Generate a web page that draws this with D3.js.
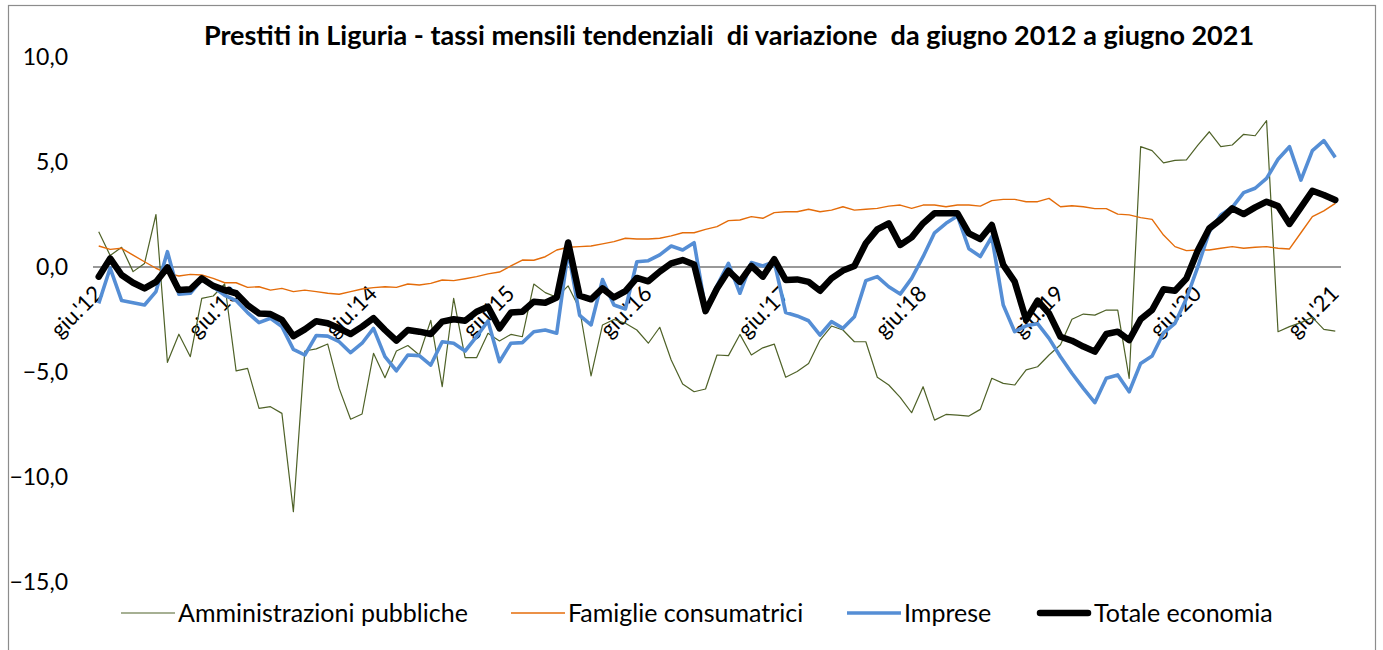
<!DOCTYPE html>
<meta charset="utf-8">
<head>
    <script src="https://d3js.org/d3.v7.min.js"></script>
</head>
<style>
    html, body { margin: 0; padding: 0; background: #fff; }
    svg { display: block; font-family: 'Lato', sans-serif; }
    .title { font-weight: 700; font-size: 27px; fill: #000; }
    .ytick { font-size: 23px; fill: #000; }
    .xtick { font-size: 22px; fill: #000; }
    .legend text { font-size: 25px; fill: #000; }
    .series { fill: none; stroke-linejoin: round; }
</style>
<body>
<svg width="1383" height="650"></svg>
<script>
    // mesi da giugno 2012 a giugno 2021
    var months = d3.timeMonth.range(new Date(2012, 5, 1), new Date(2021, 6, 1));
    var tickLabels = ["giu.'12", "giu.'13", "giu.'14", "giu.'15", "giu.'16", "giu.'17", "giu.'18", "giu.'19", "giu.'20", "giu.'21"];
    var yTicks = [-15, -10, -5, 0, 5, 10];

    var amministrazioni = [1.68, 0.55, 0.94, -0.22, 0.17, 2.5, -4.54, -3.2, -4.27, -1.49, -1.38, -0.81,
        -4.95, -4.83, -6.73, -6.65, -6.97, -11.65, -4.0, -3.9, -3.67, -5.78, -7.25, -7.0,
        -4.11, -5.27, -4.0, -3.74, -4.19, -2.54, -5.7, -1.49, -4.32, -4.32, -3.16, -3.52,
        -3.21, -3.32, -0.81, -1.22, -1.44, -0.9, -2.0, -5.19, -2.76, -2.5, -2.68, -3.0,
        -3.63, -2.87, -4.43, -5.57, -5.94, -5.81, -4.19, -4.22, -3.21, -4.19, -3.85, -3.67,
        -5.25, -4.98, -4.59, -3.48, -2.81, -3.0, -3.56, -3.56, -5.25, -5.62, -6.21, -6.94,
        -5.7, -7.29, -7.02, -7.05, -7.1, -6.78, -5.3, -5.54, -5.62, -4.9, -4.75, -4.19,
        -3.7, -2.49, -2.24, -2.29, -2.05, -2.05, -5.3, 5.73, 5.54, 4.96, 5.08, 5.1,
        5.8, 6.44, 5.73, 5.81, 6.32, 6.25, 6.97, -3.08, -2.84, -2.65, -2.4, -2.97, -3.05];

    var famiglie = [1.0, 0.84, 0.89, 0.57, 0.25, -0.06, -0.3, -0.43, -0.35, -0.38, -0.54, -0.75,
        -0.75, -0.97, -0.94, -1.1, -1.02, -1.17, -1.1, -1.17, -1.25, -1.3, -1.17, -1.05,
        -0.98, -0.94, -0.97, -0.81, -0.86, -0.78, -0.62, -0.65, -0.56, -0.46, -0.33, -0.24,
        0.05, 0.33, 0.32, 0.49, 0.81, 0.94, 0.97, 1.0, 1.1, 1.21, 1.37, 1.33,
        1.33, 1.37, 1.48, 1.63, 1.63, 1.79, 1.92, 2.21, 2.24, 2.4, 2.32, 2.59,
        2.63, 2.63, 2.75, 2.63, 2.71, 2.87, 2.71, 2.75, 2.79, 2.9, 2.95, 2.79,
        2.95, 2.95, 2.87, 2.95, 2.95, 2.9, 3.16, 3.22, 3.22, 3.11, 3.11, 3.27,
        2.87, 2.92, 2.87, 2.78, 2.78, 2.52, 2.48, 2.35, 2.27, 1.52, 0.97, 0.78,
        0.81, 0.81, 0.89, 0.97, 0.89, 0.94, 0.97, 0.89, 0.86, 1.63, 2.4, 2.67, 3.03];

    var imprese = [-1.73, -0.05, -1.6, -1.7, -1.81, -1.17, 0.73, -1.3, -1.25, -0.6, -0.95, -1.35,
        -1.6, -2.17, -2.65, -2.44, -2.84, -3.92, -4.19, -3.26, -3.29, -3.56, -4.08, -3.63,
        -2.92, -4.27, -4.94, -4.19, -4.22, -4.67, -3.56, -3.63, -4.0, -3.32, -2.57, -4.51,
        -3.63, -3.6, -3.08, -3.0, -3.15, 0.75, -2.3, -2.76, -0.6, -1.81, -2.0, 0.25,
        0.3, 0.58, 1.0, 0.81, 1.16, -2.0, -0.9, 0.17, -1.25, 0.21, 0.05, 0.25,
        -2.17, -2.33, -2.56, -3.24, -2.6, -2.92, -2.37, -0.65, -0.46, -0.94, -1.29, -0.54,
        0.49, 1.63, 2.08, 2.43, 0.87, 0.5, 1.44, -1.81, -3.08, -2.8, -2.7, -3.4,
        -4.27, -5.06, -5.78, -6.46, -5.3, -5.14, -5.94, -4.59, -4.24, -3.14, -2.68, -1.5,
        0.02, 1.68, 2.48, 2.84, 3.54, 3.75, 4.22, 5.13, 5.73, 4.14, 5.54, 6.02, 5.22];

    var totale = [-0.46, 0.41, -0.38, -0.75, -1.02, -0.71, -0.02, -1.1, -1.06, -0.54, -0.9, -1.1,
        -1.25, -1.81, -2.21, -2.24, -2.52, -3.29, -2.97, -2.58, -2.68, -2.92, -3.19, -2.84,
        -2.44, -3.0, -3.51, -3.0, -3.08, -3.19, -2.6, -2.49, -2.56, -2.13, -1.89, -2.92,
        -2.17, -2.13, -1.65, -1.7, -1.45, 1.17, -1.37, -1.54, -1.02, -1.45, -1.15, -0.52,
        -0.68, -0.22, 0.17, 0.33, 0.12, -2.1, -1.02, -0.18, -0.71, 0.05, -0.46, 0.37,
        -0.62, -0.59, -0.71, -1.13, -0.54, -0.17, 0.05, 1.13, 1.79, 2.08, 1.05, 1.41,
        2.08, 2.56, 2.56, 2.56, 1.6, 1.33, 2.0, 0.1, -0.7, -2.52, -1.6, -2.21,
        -3.32, -3.51, -3.79, -4.03, -3.19, -3.08, -3.48, -2.49, -2.05, -1.06, -1.13, -0.55,
        0.8, 1.84, 2.27, 2.79, 2.52, 2.84, 3.11, 2.9, 2.05, 2.84, 3.63, 3.43, 3.19];

    var seriesNames = ["Amministrazioni pubbliche", "Famiglie consumatrici", "Imprese", "Totale economia"];

    var series = [
        { name: seriesNames[0], values: amministrazioni, color: "#4F6228", width: 1.2, cap: "butt", lx: 121 },
        { name: seriesNames[1], values: famiglie, color: "#E46C0A", width: 1.4, cap: "butt", lx: 511 },
        { name: seriesNames[2], values: imprese, color: "#558ED5", width: 3.6, cap: "butt", lx: 847 },
        { name: seriesNames[3], values: totale, color: "#000000", width: 6.5, cap: "round", lx: 1037 }
    ];

    var svg = d3.select("svg"),
        width = +svg.attr("width"),
        height = +svg.attr("height");

    var x = d3.scalePoint()
        .domain(d3.range(months.length))
        .range([93, 1341])
        .padding(0.5);

    var y = d3.scaleLinear()
        .domain([-15, 10])
        .range([582, 57]);

    var fmt = function(d) { return d3.format(".1f")(d).replace(".", ","); };

    // cornice del grafico
    svg.append("rect")
        .attr("x", 8.5)
        .attr("y", 5.5)
        .attr("width", 1367)
        .attr("height", 700)
        .attr("fill", "none")
        .attr("stroke", "#8c8c8c")
        .attr("stroke-width", 1.2);

    svg.append("text")
        .attr("class", "title")
        .attr("x", 729)
        .attr("y", 45)
        .attr("text-anchor", "middle")
        .attr("xml:space", "preserve")
        .style("white-space", "pre")
        .text("Prestiti in Liguria - tassi mensili tendenziali  di variazione  da giugno 2012 a giugno 2021");

    // etichette asse y
    svg.append("g")
        .selectAll("text")
        .data(yTicks)
        .enter().append("text")
        .attr("class", "ytick")
        .attr("x", 68)
        .attr("y", function(d) { return y(d); })
        .attr("dy", "0.36em")
        .attr("text-anchor", "end")
        .text(fmt);

    // etichette asse x (una ogni 12 mesi)
    svg.append("g")
        .selectAll("text")
        .data(tickLabels)
        .enter().append("text")
        .attr("class", "xtick")
        .attr("text-anchor", "end")
        .attr("transform", function(d, i) {
            return "translate(" + (x(i * 12) + 5) + "," + (y(0) + 28) + ") rotate(-45)";
        })
        .text(function(d) { return d; });

    // asse delle categorie a quota zero
    svg.append("line")
        .attr("x1", x.range()[0])
        .attr("x2", x.range()[1])
        .attr("y1", y(0))
        .attr("y2", y(0))
        .attr("stroke", "#999")
        .attr("stroke-width", 2);

    var line = d3.line()
        .x(function(d, i) { return x(i); })
        .y(function(d) { return y(d); });

    svg.append("g")
        .selectAll("path")
        .data(series)
        .enter().append("path")
        .attr("class", "series")
        .attr("stroke", function(d) { return d.color; })
        .attr("stroke-width", function(d) { return d.width; })
        .attr("stroke-linecap", function(d) { return d.cap; })
        .attr("d", function(d) { return line(d.values); });

    // legenda
    var legend = svg.append("g")
        .attr("class", "legend")
        .selectAll("g")
        .data(series)
        .enter().append("g")
        .attr("transform", function(d) { return "translate(" + d.lx + ",613)"; });

    legend.append("line")
        .attr("x1", function(d) { return d.cap === "round" ? 3 : 0; })
        .attr("x2", function(d) { return d.cap === "round" ? 51 : 54; })
        .attr("stroke", function(d) { return d.color; })
        .attr("stroke-width", function(d) { return d.width; })
        .attr("stroke-linecap", function(d) { return d.cap; });

    legend.append("text")
        .attr("x", 57)
        .attr("dy", "0.36em")
        .text(function(d) { return d.name; });
</script>
</body>
